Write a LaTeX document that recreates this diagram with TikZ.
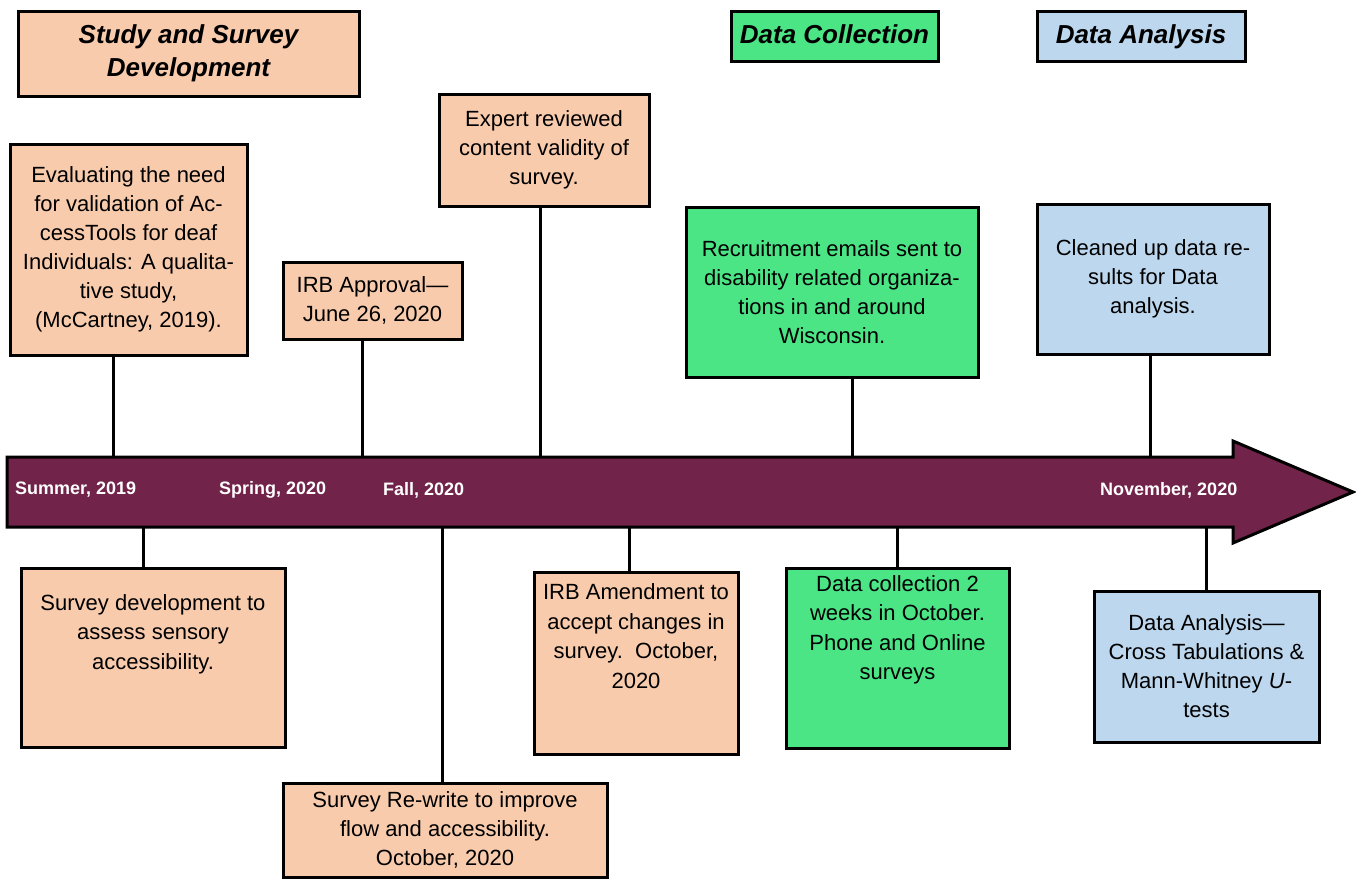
\documentclass[tikz,border=0pt]{standalone}
\usepackage{fontspec}
\setmainfont{Liberation Sans}
\usetikzlibrary{calc}
\definecolor{peach}{HTML}{F8CBAD}
\definecolor{mint}{HTML}{4BE586}
\definecolor{skyb}{HTML}{BDD7EE}
\definecolor{tlmaroon}{HTML}{71234A}
\tikzset{
  box/.style={draw=black, line width=3pt, inner sep=0pt, align=center, text=black,
              font=\fontsize{22}{29}\selectfont},
  pbox/.style={box, fill=peach},
  gbox/.style={box, fill=mint},
  bbox/.style={box, fill=skyb},
  headfont/.style={font=\fontsize{26}{33}\selectfont\bfseries\itshape},
  oneline/.style={text height=19pt, text depth=5pt},
  bodytxt/.style={align=center, inner sep=0pt, font=\fontsize{22}{29.5}\selectfont},
  datelbl/.style={font=\fontsize{18}{22}\selectfont\bfseries, text=white, anchor=west, inner sep=0pt},
  conn/.style={line width=3pt, draw=black},
  tlarrow/.style={fill=tlmaroon, draw=black, line width=3pt, line join=miter},
}
\begin{document}
\begin{tikzpicture}[x=1pt,y=-1pt]
\useasboundingbox (0,0) rectangle (1356,878);
\fill[white] (0,0) rectangle (1356,878);

% timeline arrow
\draw[tlarrow] (7,457) -- (1233,457) -- (1233,441) -- (1353,492) -- (1233,543) -- (1233,527) -- (7,527) -- cycle;
\node[datelbl] (l1) at (15,490) {Summer, 2019};
\node[datelbl] (l2) at (219,490) {Spring, 2020};
\node[datelbl] (l3) at (383,490) {Fall, 2020};
\node[datelbl] (l4) at (1100,490) {November, 2020};

% header boxes
\node[pbox, headfont, minimum width=341, minimum height=85] (hsd) at (188.5,53.5) {Study and Survey\\Development};
\node[gbox, headfont, oneline, minimum width=207, minimum height=50] (hdc) at (834.5,36) {Data Collection};
\node[bbox, headfont, oneline, minimum width=208, minimum height=50] (hda) at (1141,36) {Data Analysis};

% upper boxes
\node[pbox, minimum width=237, minimum height=211] (ev) at (128.5,249.5)
  {Evaluating the need\\for validation of Ac-\\cessTools for deaf\\Individuals: A qualita-\\tive study,\\(McCartney, 2019).};
\node[pbox, minimum width=179, minimum height=77] (irb) at (372.5,300.5)
  {IRB Approval—\\June 26, 2020};
\node[pbox, minimum width=210, minimum height=112] (exp) at (544,150)
  {Expert reviewed\\content validity of\\survey.};
\node[gbox, minimum width=292, minimum height=170] (rec) at (832,292)
  {Recruitment emails sent to\\disability related organiza-\\tions in and around\\Wisconsin.};
\node[bbox, minimum width=232, minimum height=150] (cln) at (1153,279)
  {Cleaned up data re-\\sults for Data\\analysis.};

% lower boxes
\node[pbox, minimum width=264, minimum height=179] (sd) at (153,657.5) {};
\node[bodytxt] (sdt) at (153,634) {Survey development to\\assess sensory\\accessibility.};
\node[pbox, minimum width=324, minimum height=94] (rw) at (445,830)
  {Survey Re-write to improve\\flow and accessibility.\\October, 2020};
\node[pbox, minimum width=204, minimum height=182] (amd) at (636,663) {};
\node[bodytxt] (amdt) at (636,636) {IRB Amendment to\\accept changes in\\survey.\ \ October,\\2020};
\node[gbox, minimum width=223, minimum height=180] (dcol) at (897.5,658) {};
\node[bodytxt] (dcolt) at (897.5,630) {Data collection 2\\weeks in October.\\Phone and Online\\surveys};
\node[bbox, minimum width=225, minimum height=151] (dan) at (1206.5,666.5)
  {Data Analysis—\\Cross Tabulations \&\\Mann-Whitney \textit{U}-\\tests};

% connector end points on the arrow
\coordinate (aev) at (113,457);
\coordinate (airb) at (362,457);
\coordinate (aexp) at (540,457);
\coordinate (arec) at (852,457);
\coordinate (acln) at (1150,457);
\coordinate (asd) at (143,527);
\coordinate (arw) at (442,527);
\coordinate (aamd) at (629,527);
\coordinate (adcol) at (897,527);
\coordinate (adan) at (1206,527);

\draw[conn] (ev.south -| aev) -- (aev);
\draw[conn] (irb.south -| airb) -- (airb);
\draw[conn] (exp.south -| aexp) -- (aexp);
\draw[conn] (rec.south -| arec) -- (arec);
\draw[conn] (cln.south -| acln) -- (acln);
\draw[conn] (sd.north -| asd) -- (asd);
\draw[conn] (rw.north -| arw) -- (arw);
\draw[conn] (amd.north -| aamd) -- (aamd);
\draw[conn] (dcol.north -| adcol) -- (adcol);
\draw[conn] (dan.north -| adan) -- (adan);
\end{tikzpicture}
\end{document}
